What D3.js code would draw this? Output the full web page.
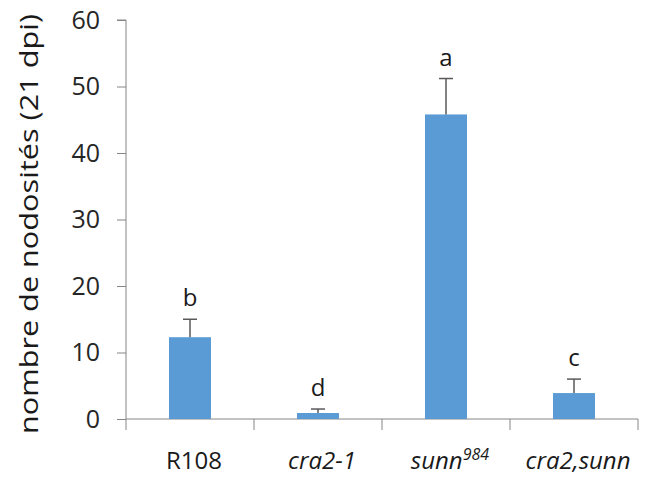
<!DOCTYPE html>
<html><head><meta charset="utf-8">
<script src="https://cdn.jsdelivr.net/npm/d3@7"></script>
<style>body{margin:0;background:#fff}svg{display:block}</style>
</head><body>
<svg id="c" width="646" height="477"></svg>
<script>
const categories = ["R108", "cra2-1", "sunn984", "cra2,sunn"];
const values = [12.3, 0.9, 45.8, 3.9];
const errors = [2.7, 0.6, 5.4, 2.1];
const letters = ["b", "d", "a", "c"];
const yTicks = [0, 10, 20, 30, 40, 50, 60];

const svg = d3.select("#c");
const font = "'Open Sans', 'DejaVu Sans', sans-serif";
const x = d3.scaleBand().domain(categories).range([126, 638]).paddingInner(0).paddingOuter(0);
const y = d3.scaleLinear().domain([0, 60]).range([419, 20]);
const axisColor = "#868686";

// y axis
const ya = svg.append("g").attr("transform", "translate(126,0)")
  .call(d3.axisLeft(y).tickValues(yTicks).tickSize(9).tickPadding(17));
ya.select(".domain").attr("stroke", axisColor).attr("d", `M-9,${y(60)}H0V${y(0)}`);
ya.selectAll(".tick line").attr("stroke", axisColor);
ya.selectAll(".tick text").attr("font-family", font).attr("font-size", 25).attr("fill", "#262626");

// x axis
const xa = svg.append("g").attr("transform", `translate(0,${y(0)})`)
  .call(d3.axisBottom(x).tickSize(0).tickFormat(""));
xa.select(".domain").attr("stroke", axisColor).attr("d", "M126,0H638");
svg.append("g").selectAll("line").data([126, ...categories.map(c => x(c) + x.bandwidth())])
  .join("line").attr("x1", d => d).attr("x2", d => d)
  .attr("y1", y(0)).attr("y2", y(0) + 11).attr("stroke", axisColor);

// bars
const bw = 42;
svg.append("g").selectAll("rect").data(categories).join("rect")
  .attr("x", (d) => x(d) + x.bandwidth() / 2 - bw / 2)
  .attr("width", bw)
  .attr("y", (d, i) => y(values[i]))
  .attr("height", (d, i) => y(0) - y(values[i]))
  .attr("fill", "#5b9bd5");

// error bars
const eg = svg.append("g").attr("stroke", "#595959").attr("stroke-width", 1.5);
categories.forEach((c, i) => {
  const cx = x(c) + x.bandwidth() / 2;
  eg.append("line").attr("x1", cx).attr("x2", cx).attr("y1", y(values[i])).attr("y2", y(values[i] + errors[i]));
  eg.append("line").attr("x1", cx - 7).attr("x2", cx + 7).attr("y1", y(values[i] + errors[i])).attr("y2", y(values[i] + errors[i]));
});

// letters
svg.append("g").selectAll("text").data(letters).join("text")
  .attr("x", (d, i) => x(categories[i]) + x.bandwidth() / 2)
  .attr("y", (d, i) => y(values[i] + errors[i]) - 13)
  .attr("text-anchor", "middle").attr("font-family", font).attr("font-size", 24).attr("fill", "#1a1a1a")
  .text(d => d);

// category labels
const labG = svg.append("g").attr("font-family", font).attr("font-size", 24).attr("fill", "#1a1a1a");
categories.forEach((c, i) => {
  const t = labG.append("text").attr("x", x(c) + x.bandwidth() / 2 + 4).attr("y", 469).attr("text-anchor", "middle");
  if (c === "R108") t.text(c);
  else if (c === "sunn984") {
    t.attr("font-style", "italic");
    t.append("tspan").text("sunn");
    t.append("tspan").text("984").attr("font-size", 16).attr("dy", -9);
  } else t.attr("font-style", "italic").text(c);
});

// y title
svg.append("text").attr("transform", "translate(38,224) rotate(-90)")
  .attr("text-anchor", "middle").attr("font-family", font).attr("font-size", 26).attr("fill", "#1a1a1a")
  .attr("textLength", 420).attr("lengthAdjust", "spacingAndGlyphs")
  .text("nombre de nodosités (21 dpi)");
</script>
</body></html>
